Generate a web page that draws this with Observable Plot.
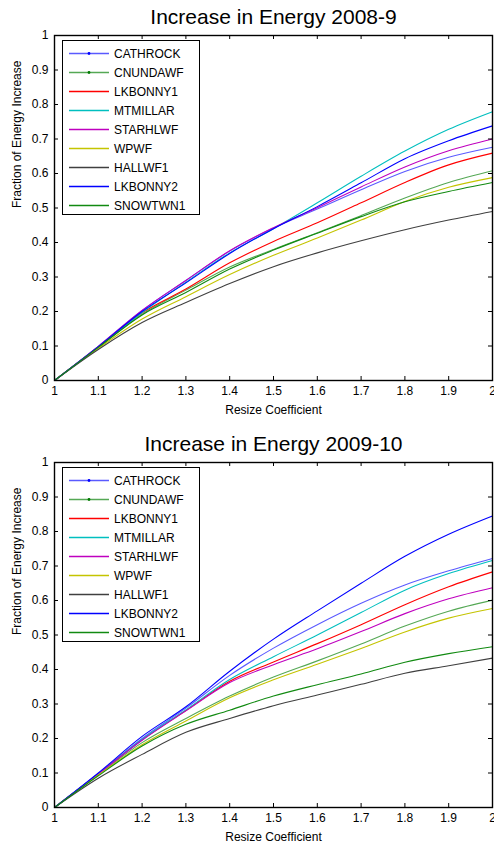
<!DOCTYPE html>
<html>
<head>
<meta charset="utf-8">
<script src="https://cdn.jsdelivr.net/npm/d3@7"></script>
<script src="https://cdn.jsdelivr.net/npm/@observablehq/plot@0.6"></script>
<style>
  body { margin: 0; background: #fff; font-family: "Liberation Sans", Arial, sans-serif; }
  #wrap { position: relative; width: 494px; height: 847px; overflow: hidden; background: #fff; }
  .chart { position: absolute; left: 0; }
  .legend { position: absolute; background: #fff; border: 1px solid #000; box-sizing: border-box; }
  .legend .row { position: absolute; left: 0; height: 19px; display: flex; align-items: center; font-size: 12px; color: #000; white-space: nowrap; }
  .legend .row svg { display: block; }
</style>
</head>
<body>
<div id="wrap"></div>
<script>
// ---- categories / ticks ----
const xValues = [1.0, 1.1, 1.2, 1.3, 1.4, 1.5, 1.6, 1.7, 1.8, 1.9, 2.0];
const xTicks = [1.0, 1.1, 1.2, 1.3, 1.4, 1.5, 1.6, 1.7, 1.8, 1.9, 2.0];
const yTicks = [0, 0.1, 0.2, 0.3, 0.4, 0.5, 0.6, 0.7, 0.8, 0.9, 1.0];
const seriesNames = ["CATHROCK", "CNUNDAWF", "LKBONNY1", "MTMILLAR", "STARHLWF", "WPWF", "HALLWF1", "LKBONNY2", "SNOWTWN1"];
const seriesColors = ["#5a5aff", "#55a855", "#ff0000", "#00bfbf", "#bf00bf", "#c4c400", "#404040", "#0000ff", "#118a11"];
const markerColors = ["#0000ff", "#007a00"];
const markerSeries = ["CATHROCK", "CNUNDAWF"];
const titles = ["Increase in Energy 2008-9", "Increase in Energy 2009-10"];
const xLabel = "Resize Coefficient";
const yLabel = "Fraction of Energy Increase";

// ---- 2008-9 ----
const cathrock0809 = [0, 0.099, 0.203, 0.290, 0.375, 0.442, 0.497, 0.553, 0.606, 0.647, 0.676];
const cnundawf0809 = [0, 0.096, 0.192, 0.262, 0.329, 0.380, 0.428, 0.478, 0.529, 0.574, 0.608];
const lkbonny10809 = [0, 0.097, 0.196, 0.265, 0.341, 0.403, 0.457, 0.515, 0.574, 0.625, 0.659];
const mtmillar0809 = [0, 0.097, 0.197, 0.285, 0.370, 0.440, 0.515, 0.592, 0.665, 0.728, 0.779];
const starhlwf0809 = [0, 0.099, 0.203, 0.290, 0.376, 0.443, 0.501, 0.561, 0.619, 0.666, 0.700];
const wpwf0809     = [0, 0.093, 0.178, 0.243, 0.307, 0.363, 0.413, 0.465, 0.519, 0.560, 0.588];
const hallwf10809  = [0, 0.090, 0.168, 0.226, 0.281, 0.330, 0.370, 0.405, 0.437, 0.465, 0.490];
const lkbonny20809 = [0, 0.098, 0.200, 0.283, 0.368, 0.440, 0.504, 0.573, 0.643, 0.695, 0.738];
const snowtwn10809 = [0, 0.096, 0.190, 0.255, 0.323, 0.378, 0.427, 0.475, 0.518, 0.548, 0.574];

// ---- 2009-10 ----
const cathrock0910 = [0, 0.098, 0.200, 0.288, 0.383, 0.462, 0.530, 0.592, 0.645, 0.686, 0.722];
const cnundawf0910 = [0, 0.095, 0.188, 0.258, 0.323, 0.378, 0.425, 0.474, 0.526, 0.569, 0.601];
const lkbonny10910 = [0, 0.097, 0.196, 0.281, 0.366, 0.422, 0.475, 0.530, 0.588, 0.640, 0.683];
const mtmillar0910 = [0, 0.097, 0.197, 0.283, 0.371, 0.437, 0.500, 0.565, 0.630, 0.678, 0.716];
const starhlwf0910 = [0, 0.097, 0.195, 0.280, 0.362, 0.414, 0.460, 0.510, 0.562, 0.605, 0.637];
const wpwf0910     = [0, 0.094, 0.182, 0.251, 0.318, 0.370, 0.415, 0.461, 0.509, 0.549, 0.577];
const hallwf10910  = [0, 0.085, 0.154, 0.218, 0.258, 0.295, 0.326, 0.357, 0.389, 0.411, 0.433];
const lkbonny20910 = [0, 0.100, 0.206, 0.292, 0.395, 0.488, 0.570, 0.650, 0.728, 0.792, 0.845];
const snowtwn10910 = [0, 0.092, 0.178, 0.241, 0.282, 0.323, 0.356, 0.387, 0.421, 0.446, 0.466];

const values0809 = [cathrock0809, cnundawf0809, lkbonny10809, mtmillar0809, starhlwf0809, wpwf0809, hallwf10809, lkbonny20809, snowtwn10809];
const values0910 = [cathrock0910, cnundawf0910, lkbonny10910, mtmillar0910, starhlwf0910, wpwf0910, hallwf10910, lkbonny20910, snowtwn10910];

const W = 494, ML = 54, MR = 2;
const fmt = d => String(+d.toFixed(1));
const wrap = document.getElementById("wrap");

function makeChart(title, seriesValues, top, height, mTop, mBottom) {
  const data = [];
  seriesNames.forEach((name, i) => seriesValues[i].forEach((v, j) => data.push({x: xValues[j], y: v, series: name})));
  const innerH = height - mTop - mBottom;
  const innerW = W - ML - MR;
  const svg = Plot.plot({
    width: W, height, marginLeft: ML, marginRight: MR, marginTop: mTop, marginBottom: mBottom,
    style: {fontFamily: "'Liberation Sans', Arial, sans-serif", fontSize: "12px", color: "#000", background: "transparent", overflow: "visible"},
    x: {domain: [1, 2]},
    y: {domain: [0, 1]},
    color: {domain: seriesNames, range: seriesColors},
    marks: [
      Plot.line(data, {x: "x", y: "y", z: "series", stroke: "series", strokeWidth: 1.1, curve: "monotone-x"}),
      Plot.frame({stroke: "#000", strokeWidth: 1.4}),
      Plot.tickX(xTicks, {x: d => d, insetTop: innerH - 4, stroke: "#000"}),
      Plot.tickX(xTicks, {x: d => d, insetBottom: innerH - 4, stroke: "#000"}),
      Plot.tickY(yTicks, {y: d => d, insetRight: innerW - 4, stroke: "#000"}),
      Plot.tickY(yTicks, {y: d => d, insetLeft: innerW - 4, stroke: "#000"}),
      Plot.axisX({ticks: xTicks, anchor: "bottom", tickSize: 0, tickPadding: 6, tickFormat: fmt, label: null, fontSize: 12}),
      Plot.axisY({ticks: yTicks, anchor: "left", tickSize: 0, tickPadding: 6, tickFormat: fmt, label: null, fontSize: 12}),
      Plot.text([title], {frameAnchor: "top", dy: -18, fontSize: 21, lineAnchor: "middle"}),
      Plot.text([xLabel], {frameAnchor: "bottom", dy: 30, fontSize: 12, lineAnchor: "middle"}),
      Plot.text([yLabel], {frameAnchor: "left", dx: -37, rotate: -90, fontSize: 12, lineAnchor: "middle"})
    ]
  });
  svg.classList.add("chart");
  svg.style.top = top + "px";
  svg.style.position = "absolute";
  wrap.appendChild(svg);

  // legend box (inside axes, upper-left)
  const lg = document.createElement("div");
  lg.className = "legend";
  lg.style.left = "62px";
  lg.style.top = (top + mTop + 5) + "px";
  lg.style.width = "138px";
  lg.style.height = "175px";
  seriesNames.forEach((name, i) => {
    const row = document.createElement("div");
    row.className = "row";
    row.style.top = (3 + 19 * i) + "px";
    const ns = "http://www.w3.org/2000/svg";
    const s = document.createElementNS(ns, "svg");
    s.setAttribute("width", "50");
    s.setAttribute("height", "19");
    const ln = document.createElementNS(ns, "line");
    ln.setAttribute("x1", "6"); ln.setAttribute("x2", "46");
    ln.setAttribute("y1", "9.5"); ln.setAttribute("y2", "9.5");
    ln.setAttribute("stroke", seriesColors[i]);
    ln.setAttribute("stroke-width", "1.3");
    s.appendChild(ln);
    const mi = markerSeries.indexOf(name);
    if (mi >= 0) {
      const c = document.createElementNS(ns, "circle");
      c.setAttribute("cx", "26"); c.setAttribute("cy", "9.5"); c.setAttribute("r", "1.4");
      c.setAttribute("fill", markerColors[mi]);
      s.appendChild(c);
    }
    row.appendChild(s);
    const t = document.createElement("span");
    t.textContent = name;
    t.style.marginLeft = "1px";
    row.appendChild(t);
    lg.appendChild(row);
  });
  wrap.appendChild(lg);
}

makeChart(titles[0], values0809, 0, 427, 35, 47);
makeChart(titles[1], values0910, 427, 420, 35, 40);
</script>
</body>
</html>
